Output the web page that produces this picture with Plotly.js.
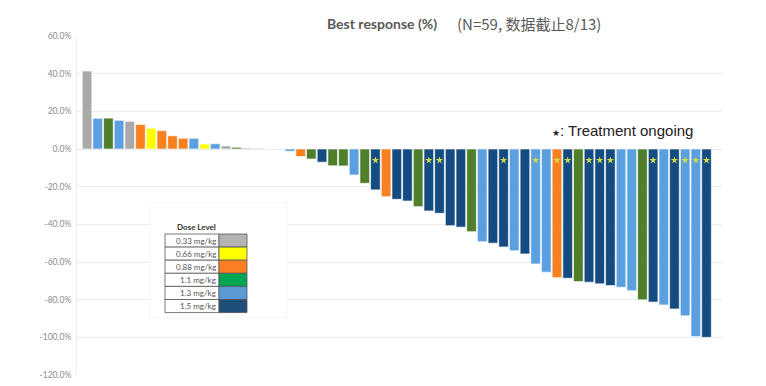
<!DOCTYPE html>
<html>
<head>
<meta charset="utf-8">
<script src="https://cdn.plot.ly/plotly-3.0.1.min.js"></script>
<style>html,body{margin:0;padding:0;background:#fff;}#chart{width:766px;height:386px;}</style>
</head>
<body>
<div id="chart"></div>
<script>
// ---- data ----
const doseLevels = ['0.33 mg/kg', '0.66 mg/kg', '0.88 mg/kg', '1.1 mg/kg', '1.3 mg/kg', '1.5 mg/kg'];
const barColors = ['#a9a9a9', '#ffff00', '#f7801f', '#4f7f2a', '#5a9fe0', '#144b80'];
const swatchColors = ['#b3b3b3', '#ffff00', '#fb7d24', '#00a651', '#5b9bd5', '#1f4e79'];
const patients = Array.from({length: 59}, (_, i) => 'P' + (i + 1));
const bestResponse = [
  41.4, 16.3, 16.4, 15.2, 14.7, 13.0, 11.0, 9.7, 7.0, 5.7,
  5.7, 2.6, 2.8, 1.6, 0.9, 0.5, 0.4, 0.0, -0.3, -1.2,
  -4.0, -5.3, -7.0, -8.9, -9.0, -13.8, -18.2, -21.7, -25.3, -26.7,
  -27.6, -30.6, -32.9, -34.1, -40.7, -41.5, -43.9, -49.2, -50.0, -52.0,
  -54.0, -55.7, -61.0, -65.4, -68.3, -68.6, -70.4, -70.7, -71.6, -72.5,
  -73.4, -75.2, -80.1, -81.3, -82.8, -84.9, -88.6, -99.6, -100.0
];
const doseIndex = [
  0, 4, 3, 4, 0, 2, 1, 2, 2, 2,
  4, 1, 4, 0, 3, 0, 0, 4, 4, 4,
  2, 3, 5, 3, 3, 4, 3, 5, 2, 5,
  5, 3, 5, 5, 5, 5, 3, 4, 5, 5,
  4, 5, 4, 4, 2, 5, 3, 5, 5, 5,
  4, 4, 3, 5, 4, 5, 4, 4, 5
];
const ongoing = [27, 32, 33, 39, 42, 44, 45, 47, 48, 49, 53, 55, 56, 57, 58];
const ongoingMarkY = -6;
const yTicks = [60, 40, 20, 0, -20, -40, -60, -80, -100, -120];
const yTickText = yTicks.map(v => v.toFixed(1) + '%');

// ---- geometry helpers (pixel -> paper) ----
const W = 766, H = 386, ML = 77, MR = 44, MT = 36, MB = 11;
const PW = W - ML - MR, PH = H - MT - MB;
const px = x => (x - ML) / PW;
const py = y => (H - MB - y) / PH;

const bars = {
  type: 'bar',
  x: patients.map((_, i) => i),
  y: bestResponse,
  marker: {color: doseIndex.map(d => barColors[d]), line: {color: '#ffffff', width: 0.6}},
  hoverinfo: 'y',
  showlegend: false
};
const stars = {
  type: 'scatter', mode: 'markers',
  x: ongoing,
  y: ongoing.map(() => ongoingMarkY),
  marker: {symbol: 'star', size: 5.5, color: '#d2dc48'},
  showlegend: false, hoverinfo: 'skip'
};

const shapes = [];
const annotations = [];

// legend table
const tL = 165, tM = 219, tR = 247, tT = 234, rowH = 13.1;
shapes.push({type: 'rect', xref: 'paper', yref: 'paper', x0: px(150), x1: px(287), y0: py(318), y1: py(203),
  fillcolor: '#ffffff', line: {color: '#f6f6f6', width: 1}, layer: 'above'});
doseLevels.forEach((lab, k) => {
  const y0 = tT + k * rowH, y1 = y0 + rowH;
  shapes.push({type: 'rect', xref: 'paper', yref: 'paper', x0: px(tL), x1: px(tM), y0: py(y1), y1: py(y0),
    fillcolor: '#ffffff', line: {color: '#555555', width: 0.8}, layer: 'above'});
  shapes.push({type: 'rect', xref: 'paper', yref: 'paper', x0: px(tM), x1: px(tR), y0: py(y1), y1: py(y0),
    fillcolor: swatchColors[k], line: {color: '#555555', width: 0.8}, layer: 'above'});
  annotations.push({xref: 'paper', yref: 'paper', x: px(tM - 1), y: py((y0 + y1) / 2), text: lab,
    xanchor: 'right', yanchor: 'middle', showarrow: false,
    font: {family: 'Lato, "Liberation Sans", sans-serif', size: 8, color: '#555555'}});
});
annotations.push({xref: 'paper', yref: 'paper', x: px(196), y: py(227), text: '<b>Dose Level</b>',
  xanchor: 'center', yanchor: 'middle', showarrow: false,
  font: {family: 'Lato, "Liberation Sans", sans-serif', size: 8, color: '#333333'}});

// title
annotations.push({xref: 'paper', yref: 'paper', x: px(325), y: py(24), text: '<b>Best response (%)</b>',
  xanchor: 'left', yanchor: 'middle', showarrow: false,
  font: {family: 'Lato, "Open Sans", sans-serif', size: 14, color: '#595959'}});
annotations.push({xref: 'paper', yref: 'paper', x: px(455), y: py(24), text: '(N=59, 数据截止8/13)',
  xanchor: 'left', yanchor: 'middle', showarrow: false,
  font: {family: '"Noto Sans CJK SC", "Noto Sans", sans-serif', size: 15, color: '#5a5a5a'}});
// ongoing note
annotations.push({xref: 'paper', yref: 'paper', x: px(550), y: py(130), text: '<span style="font-size:9px">★</span>: Treatment ongoing',
  xanchor: 'left', yanchor: 'middle', showarrow: false,
  font: {family: '"Liberation Sans", Arial, sans-serif', size: 15, color: '#222222'}});

const layout = {
  width: W, height: H,
  margin: {l: ML, r: MR, t: MT, b: MB, pad: 0},
  paper_bgcolor: '#ffffff', plot_bgcolor: '#ffffff',
  bargap: 0.1,
  xaxis: {range: [-0.94, 59.45], showticklabels: false, showgrid: false, zeroline: false, ticks: '', fixedrange: true},
  yaxis: {range: [-120, 60], tickvals: yTicks, ticktext: yTickText, showgrid: true, gridcolor: '#ebebeb', gridwidth: 1,
    zeroline: true, zerolinecolor: '#e4e4e4', zerolinewidth: 1, showline: true, linecolor: '#eeeeee', ticks: '',
    ticklabelstandoff: 3,
    tickfont: {family: 'Lato, "Liberation Sans", sans-serif', size: 8.5, color: '#8c8c8c'}},
  shapes: shapes,
  annotations: annotations,
  showlegend: false
};

Plotly.newPlot('chart', [bars, stars], layout, {displayModeBar: false, staticPlot: true});
</script>
</body>
</html>
